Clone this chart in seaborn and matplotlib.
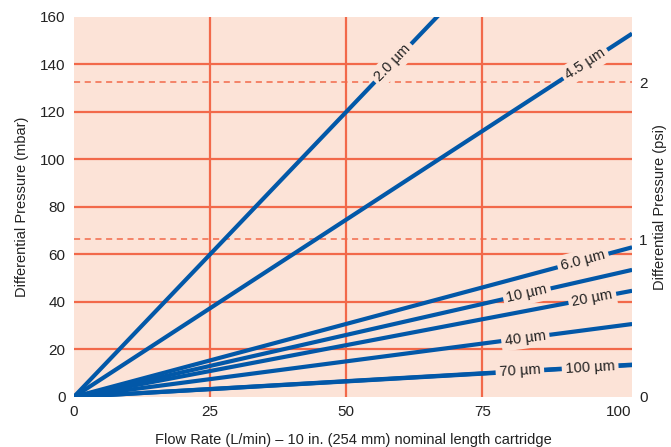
import numpy as np
import pandas as pd
import matplotlib
matplotlib.use("Agg")
import matplotlib.pyplot as plt
import seaborn as sns

# pressure drop (mbar) read at the right edge of the plot (x_edge L/min)
grades = ["2.0 µm", "4.5 µm", "6.0 µm", "10 µm", "20 µm", "40 µm", "70 µm", "100 µm"]
x_edge = 102.5
flow = [0, x_edge]
dp_edge = [246, 153, 63, 53.5, 44.7, 30.7, 13.6, 13.4]
# where each inline label sits along its line (L/min)
label_x = [58.6, 93.9, 93.5, 83.2, 95.2, 82.9, 81.9, 94.8]

x_ticks = [0, 25, 50, 75, 100]
y_ticks = [0, 20, 40, 60, 80, 100, 120, 140, 160]
psi_ticks = [0, 1, 2]
mbar_per_psi = 66.3  # as drawn on the original chart

bg = "#FCE3D7"
grid_col = "#F2694A"
blue = "#0258A8"
txt = "#222222"

rows = []
for g, v in zip(grades, dp_edge):
    for f in flow:
        rows.append({"grade": g, "flow": f, "dp": v * f / x_edge})
df = pd.DataFrame(rows)

sns.set_style("white")
plt.rcParams["font.family"] = ["Liberation Sans", "DejaVu Sans"]

fig = plt.figure(figsize=(6.71, 4.47), dpi=100)
ax = fig.add_axes([0.110, 0.112, 0.832, 0.850])
ax.set_facecolor(bg)

for y in y_ticks[1:-1]:
    ax.axhline(y, color=grid_col, lw=1.6, zorder=1)
for x in x_ticks[1:-1]:
    ax.axvline(x, color=grid_col, lw=1.6, zorder=1)
for p in psi_ticks[1:]:
    ax.axhline(p * mbar_per_psi, color=grid_col, lw=1.1, ls=(0, (4, 3)), zorder=1)

sns.lineplot(data=df, x="flow", y="dp", units="grade", estimator=None,
             color=blue, lw=3.0, solid_capstyle="butt", ax=ax, zorder=3,
             legend=False)

ax.set_xlim(0, x_edge)
ax.set_ylim(0, 160)

for g, v, lx in zip(grades, dp_edge, label_x):
    slope = v / x_edge
    ang = np.degrees(np.arctan(slope))
    ax.text(lx, slope * lx, g, fontsize=10.5, color=txt, ha="center", va="center",
            rotation=ang, transform_rotates_text=True, rotation_mode="anchor",
            zorder=4,
            bbox=dict(boxstyle="square,pad=0.25", fc=bg, ec="none"))

ax.set_xticks(x_ticks)
ax.set_yticks(y_ticks)
ax.tick_params(length=0, labelsize=11, colors=txt, pad=6)
for s in ax.spines.values():
    s.set_visible(False)
ax.set_xlabel("Flow Rate (L/min) – 10 in. (254 mm) nominal length cartridge",
              fontsize=10.5, color=txt, labelpad=10)
ax.set_ylabel("Differential Pressure (mbar)", fontsize=10.5, color=txt, labelpad=8)

ax2 = ax.twinx()
ax2.set_ylim(0, 160 / mbar_per_psi)
ax2.set_yticks(psi_ticks)
ax2.tick_params(length=0, labelsize=11, colors=txt, pad=5)
for s in ax2.spines.values():
    s.set_visible(False)
ax2.set_ylabel("Differential Pressure (psi)", fontsize=10.5, color=txt, labelpad=4)

fig.savefig("out.png", dpi=100)
